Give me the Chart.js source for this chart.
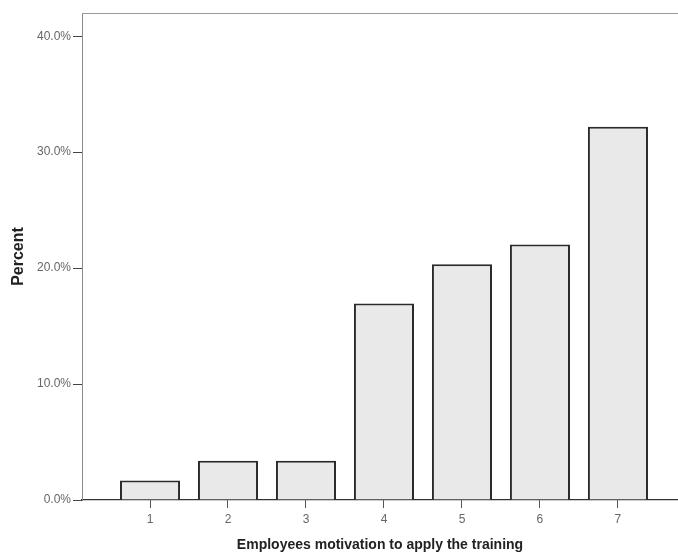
<!DOCTYPE html>
<html>
<head>
<meta charset="utf-8">
<script src="https://cdn.jsdelivr.net/npm/chart.js@4"></script>
<style>
  html, body { margin: 0; padding: 0; background: #fff; }
  #wrap { width: 678px; height: 554px; }
</style>
</head>
<body>
<div id="wrap"><canvas id="motivationChart" width="678" height="554"></canvas></div>
<script>
// Motivation score (1-7) and share of respondents in percent
const scores = [1, 2, 3, 4, 5, 6, 7];
const percents = [1.69, 3.39, 3.39, 16.95, 20.34, 22.03, 32.20];
const yTicks = [0, 10, 20, 30, 40];

const FAMILY = "'Liberation Sans', Arial, sans-serif";
const TICK_FONT = { family: FAMILY, size: 12 };

// thin frame line along the top of the plot area
const topFrame = {
  id: "topFrame",
  afterDraw(chart) {
    const { ctx, chartArea } = chart;
    ctx.save();
    ctx.strokeStyle = "#9a9a9a";
    ctx.lineWidth = 1;
    ctx.beginPath();
    ctx.moveTo(chartArea.left, chartArea.top + 0.5);
    ctx.lineTo(chartArea.right, chartArea.top + 0.5);
    ctx.stroke();
    ctx.restore();
  }
};

new Chart(document.getElementById("motivationChart"), {
  type: "bar",
  data: {
    datasets: [{
      data: scores.map((s, i) => ({ x: s, y: percents[i] })),
      backgroundColor: "#e9e9e9",
      borderColor: "#2a2a2a",
      borderWidth: 2,
      barPercentage: 0.77,
      categoryPercentage: 1
    }]
  },
  options: {
    responsive: false,
    animation: false,
    layout: { padding: { top: 13, right: 0, left: 0, bottom: 0 } },
    plugins: { legend: { display: false }, tooltip: { enabled: false } },
    scales: {
      x: {
        type: "linear",
        offset: false,
        min: 0.128,
        max: 7.77,
        afterBuildTicks(axis) { axis.ticks = scores.map(v => ({ value: v })); },
        afterFit(axis) { axis.height = 54; },
        border: { color: "#333", width: 1.2 },
        grid: { offset: false, drawOnChartArea: false, drawTicks: true, tickLength: 8, color: "#555" },
        ticks: { color: "#666", font: TICK_FONT, padding: 4, callback: v => String(v) },
        title: {
          display: true,
          text: "Employees motivation to apply the training",
          color: "#222",
          font: { family: FAMILY, size: 14, weight: "bold" },
          padding: { top: 6, bottom: 0 }
        }
      },
      y: {
        min: 0,
        max: 42,
        afterBuildTicks(axis) { axis.ticks = yTicks.map(v => ({ value: v })); },
        afterFit(axis) { axis.width = 82; },
        border: { color: "#8a8a8a", width: 1 },
        grid: { drawOnChartArea: false, drawTicks: true, tickLength: 9, color: "#444" },
        ticks: { color: "#666", font: TICK_FONT, padding: 2, callback: v => v.toFixed(1) + "%" },
        title: {
          display: true,
          text: "Percent",
          color: "#222",
          font: { family: FAMILY, size: 16, weight: "bold" },
          padding: { top: 9, bottom: 0 }
        }
      }
    }
  },
  plugins: [topFrame]
});
</script>
</body>
</html>
